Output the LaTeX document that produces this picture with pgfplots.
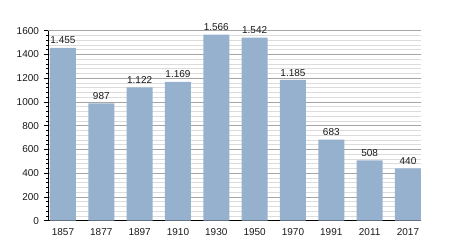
\documentclass[border=0pt]{standalone}
\usepackage{fontspec}
\setmainfont{Liberation Sans}
\usepackage{pgfplots}
\pgfplotsset{compat=1.18}
\definecolor{barc}{RGB}{150,177,205}
\definecolor{majg}{RGB}{165,165,165}
\definecolor{ming}{RGB}{220,220,220}
\definecolor{txt}{RGB}{25,25,25}
\begin{document}
\begin{tikzpicture}[x=1pt,y=1pt]
\useasboundingbox (0,0) rectangle (450,250);
\begin{axis}[
  at={(48pt,29.3pt)}, anchor=south west,
  scale only axis, width=373pt, height=190pt,
  xmin=-0.39, xmax=9.34, ymin=0, ymax=1600,
  axis x line*=bottom, axis y line*=left,
  axis line style={black, line width=0.9pt},
  ytick={0,200,...,1600}, minor y tick num=4,
  ymajorgrids, yminorgrids,
  major grid style={majg, line width=0.8pt},
  minor grid style={ming, line width=0.7pt},
  tick align=outside,
  major tick length=4pt, minor tick length=2pt,
  ytick style={black, line width=0.7pt},
  xtick={0,...,9},
  xticklabels={1857,1877,1897,1910,1930,1950,1970,1991,2011,2017},
  xtick style={draw=none},
  tick label style={font=\fontsize{10}{12}\selectfont, text=txt},
  yticklabel style={xshift=-1.5pt},
  /pgf/number format/assume math mode=true,
  /pgf/number format/set thousands separator={},
  ybar, bar width=26pt,
  nodes near coords, point meta=explicit symbolic,
  nodes near coords style={font=\fontsize{10}{12}\selectfont, text=txt, anchor=south, yshift=0.3pt},
]
\addplot[fill=barc, draw=none] table[meta=label] {
x y label
0 1455 1.455
1 987 987
2 1122 1.122
3 1169 1.169
4 1566 1.566
5 1542 1.542
6 1185 1.185
7 683 683
8 508 508
9 440 440
};
\end{axis}
\end{tikzpicture}
\end{document}
